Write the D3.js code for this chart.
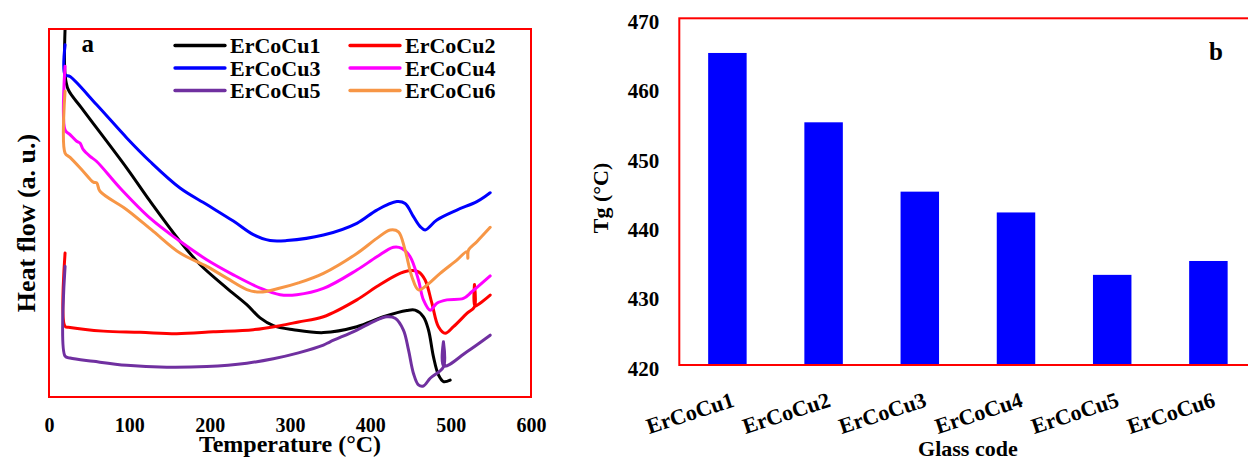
<!DOCTYPE html>
<html>
<head>
<meta charset="utf-8">
<script src="https://cdn.jsdelivr.net/npm/d3@7"></script>
<style>
  html, body { margin: 0; padding: 0; background: #fff; }
  svg { display: block; }
</style>
</head>
<body>
<script>
// ---- DSC traces: [temperature °C, heat flow (a.u.)] ----
const ercocu1 = [[20,100],[20,87.6],[24,83.5],[40.7,78.5],[96.8,62.2],[125.8,53.2],[163.1,42.3],[188,36],[221.3,29.6],[246.2,25.1],[262.8,21.5],[279.3,19.4],[304.2,18.3],[341.6,17.5],[383.2,19.1],[416.3,21.8],[445.5,23.5],[455.8,23.6],[466.1,21.8],[472.4,18.2],[478.6,10.9],[484.8,6],[491,4.2],[499.4,4.6]];
const ercocu2 = [[20,39.1],[20,19.2],[26.2,18.9],[67.6,17.9],[113.3,17.6],[159,17.2],[204.6,17.7],[254.4,18.3],[287.7,19.4],[310.5,20.4],[341.6,21.8],[383.2,26.4],[408.1,30],[433,33.2],[447.5,34.3],[459.9,34],[468.2,31.8],[476.6,25.5],[484.8,19.1],[493.2,17.3],[503.5,19.1],[520.2,22.7],[529.6,24.5],[529.6,30.6],[530.2,24.7],[536.6,25.5],[549.2,27.7]];
const ercocu3 = [[20,95.7],[20,87.6],[26.2,87.1],[59.4,79.4],[96.8,70.4],[125.8,64],[163.1,56.8],[196.4,52.3],[229.5,47.8],[254.4,44.1],[275.2,42.5],[296,42.5],[341.6,44],[383.2,47.2],[408.1,50.8],[433,53.1],[443.3,52.6],[453.7,49],[462,46.3],[468.2,45.4],[482.8,48.1],[507.7,50.8],[532.6,53.1],[549.2,55.5]];
const ercocu4 = [[20,89.9],[20,72.6],[26.2,71.3],[34.5,69.5],[38.6,69],[42.7,67.2],[51.1,65.4],[59.4,64],[88.4,56.8],[125.8,48.6],[163.1,42.3],[196.4,37.3],[229.5,33.2],[262.8,29.6],[287.7,27.8],[308.5,27.8],[341.6,29.5],[383.2,34.5],[408.1,38.1],[428.8,40.7],[439.2,40.4],[449.6,38.1],[459.9,31.8],[466.1,26.4],[474.5,23.6],[482.8,25.5],[495.3,26.4],[515.9,26.8],[526.4,28.6],[549.2,32.9]];
const ercocu5 = [[20,35.5],[20,11.1],[26.2,10.6],[55.2,9.7],[96.8,8.6],[146.6,8.1],[196.4,8.3],[246.2,9.2],[279.3,10.4],[310.5,12],[341.6,14.1],[349.9,15],[383.2,18.2],[403.9,20.5],[420.5,21.8],[430.9,21.4],[441.2,18.2],[447.5,12.8],[453.7,6.4],[459.9,3.3],[466.1,3],[474.5,5.1],[491,8.2],[491,15],[491.4,8.4],[520.2,12.3],[549.2,16.8]];
const ercocu6 = [[20,83.1],[20,66.3],[26.2,65.1],[42.7,61.3],[55.2,58.4],[59.4,58.2],[63.5,55.9],[96.8,50.9],[129.9,45],[163.1,39.1],[196.4,35.5],[221.3,32.3],[246.2,29.2],[262.8,28.5],[287.7,29.6],[310.5,31],[341.6,33.6],[383.2,39],[408.1,43.1],[424.7,45.4],[435,44.9],[443.3,39.9],[451.7,32.7],[459.9,29.1],[470.4,30.4],[486.9,33.6],[507.7,37.2],[520.2,39.5],[521.4,37.7],[522.2,39.9],[532.6,42.2],[549.2,46.1]];

const seriesNames  = ["ErCoCu1", "ErCoCu2", "ErCoCu3", "ErCoCu4", "ErCoCu5", "ErCoCu6"];
const seriesData   = [ercocu1, ercocu2, ercocu3, ercocu4, ercocu5, ercocu6];
const seriesColors = ["#000000", "#ff0000", "#0000ff", "#ff00ff", "#7030a0", "#f79646"];
const temperatureTicks = [0, 100, 200, 300, 400, 500, 600];

// ---- glass transition temperatures ----
const glassCodes = ["ErCoCu1", "ErCoCu2", "ErCoCu3", "ErCoCu4", "ErCoCu5", "ErCoCu6"];
const tgValues   = [465, 455, 445, 442, 433, 435];
const tgTicks    = [420, 430, 440, 450, 460, 470];

const FONT = "'Liberation Serif', 'Times New Roman', Times, serif";

const svg = d3.select("body").append("svg")
  .attr("width", 1248).attr("height", 462)
  .style("background", "#fff");

// ================= panel a: heat flow curves =================
const A = { left: 49, right: 531, top: 29, bottom: 397 };
const xA = d3.scaleLinear().domain([0, 600]).range([A.left, A.right]);
const yA = d3.scaleLinear().domain([0, 100]).range([A.bottom, A.top]);

svg.append("clipPath").attr("id", "clipA")
  .append("rect")
  .attr("x", A.left).attr("y", A.top)
  .attr("width", A.right - A.left).attr("height", A.bottom - A.top);

const line = d3.line()
  .x(d => xA(d[0]))
  .y(d => yA(d[1]))
  .curve(d3.curveCatmullRom.alpha(0.5));

const curves = svg.append("g").attr("clip-path", "url(#clipA)");
seriesData.forEach((data, i) => {
  curves.append("path")
    .datum(data)
    .attr("d", line)
    .attr("fill", "none")
    .attr("stroke", seriesColors[i])
    .attr("stroke-width", 3)
    .attr("stroke-linejoin", "round")
    .attr("stroke-linecap", "round");
});

svg.append("rect")
  .attr("x", A.left).attr("y", A.top)
  .attr("width", A.right - A.left).attr("height", A.bottom - A.top)
  .attr("fill", "none").attr("stroke", "#ff0000").attr("stroke-width", 2);

const axA = svg.append("g")
  .attr("transform", `translate(0,${A.bottom})`)
  .call(d3.axisBottom(xA).tickValues(temperatureTicks).tickSize(0).tickPadding(20.5));
axA.select(".domain").remove();
axA.selectAll("text")
  .attr("font-family", FONT).attr("font-size", 20).attr("font-weight", "bold")
  .attr("fill", "#000");

svg.append("text")
  .attr("x", (A.left + A.right) / 2).attr("y", 452)
  .attr("text-anchor", "middle")
  .attr("font-family", FONT).attr("font-size", 24).attr("font-weight", "bold")
  .text("Temperature (°C)");

svg.append("text")
  .attr("transform", "translate(35,223) rotate(-90)")
  .attr("text-anchor", "middle")
  .attr("font-family", FONT).attr("font-size", 26).attr("font-weight", "bold")
  .text("Heat flow (a. u.)");

svg.append("text")
  .attr("x", 81.5).attr("y", 51.5)
  .attr("font-family", FONT).attr("font-size", 25).attr("font-weight", "bold")
  .text("a");

// legend: two columns, three rows
const legend = svg.append("g");
seriesNames.forEach((name, i) => {
  const col = i % 2, row = Math.floor(i / 2);
  const x0 = col === 0 ? 175 : 350;
  const cy = 45.5 + row * 22.5;
  legend.append("line")
    .attr("x1", x0).attr("x2", x0 + 50)
    .attr("y1", cy).attr("y2", cy)
    .attr("stroke", seriesColors[i]).attr("stroke-width", 3.3)
    .attr("stroke-linecap", "round");
  legend.append("text")
    .attr("x", x0 + 55).attr("y", cy + 7.5)
    .attr("font-family", FONT).attr("font-size", 22).attr("font-weight", "bold")
    .text(name);
});

// ================= panel b: Tg bars =================
const B = { left: 679.3, right: 1256.5, top: 18.3, bottom: 365 };
const xB = d3.scaleBand().domain(glassCodes).range([B.left, B.right])
  .paddingInner(0.6).paddingOuter(0.3);
const yB = d3.scaleLinear().domain([420, 470]).range([B.bottom, B.top]);

svg.append("g").selectAll("rect")
  .data(tgValues)
  .join("rect")
  .attr("x", (d, i) => xB(glassCodes[i]))
  .attr("width", xB.bandwidth())
  .attr("y", d => yB(d))
  .attr("height", d => yB(420) - yB(d))
  .attr("fill", "#0000ff");

svg.append("rect")
  .attr("x", B.left).attr("y", B.top)
  .attr("width", 1252 - B.left).attr("height", B.bottom - B.top)
  .attr("fill", "none").attr("stroke", "#ff0000").attr("stroke-width", 2);

const axB = svg.append("g")
  .attr("transform", `translate(${B.left},0)`)
  .call(d3.axisLeft(yB).tickValues(tgTicks).tickSize(0).tickPadding(20));
axB.select(".domain").remove();
axB.selectAll("text")
  .attr("dy", "0.48em")
  .attr("font-family", FONT).attr("font-size", 21).attr("font-weight", "bold")
  .attr("fill", "#000");

svg.append("g").selectAll("text")
  .data(glassCodes)
  .join("text")
  .attr("transform", d => `translate(${xB(d) + xB.bandwidth() / 2 + 8},406) rotate(-18)`)
  .attr("text-anchor", "end")
  .attr("font-family", FONT).attr("font-size", 22).attr("font-weight", "bold")
  .text(d => d);

svg.append("text")
  .attr("x", (B.left + B.right) / 2).attr("y", 456)
  .attr("text-anchor", "middle")
  .attr("font-family", FONT).attr("font-size", 22).attr("font-weight", "bold")
  .text("Glass code");

svg.append("text")
  .attr("transform", "translate(608,198) rotate(-90)")
  .attr("text-anchor", "middle")
  .attr("font-family", FONT).attr("font-size", 22).attr("font-weight", "bold")
  .text("Tg (°C)");

svg.append("text")
  .attr("x", 1209).attr("y", 60)
  .attr("font-family", FONT).attr("font-size", 25).attr("font-weight", "bold")
  .text("b");
</script>
</body>
</html>
